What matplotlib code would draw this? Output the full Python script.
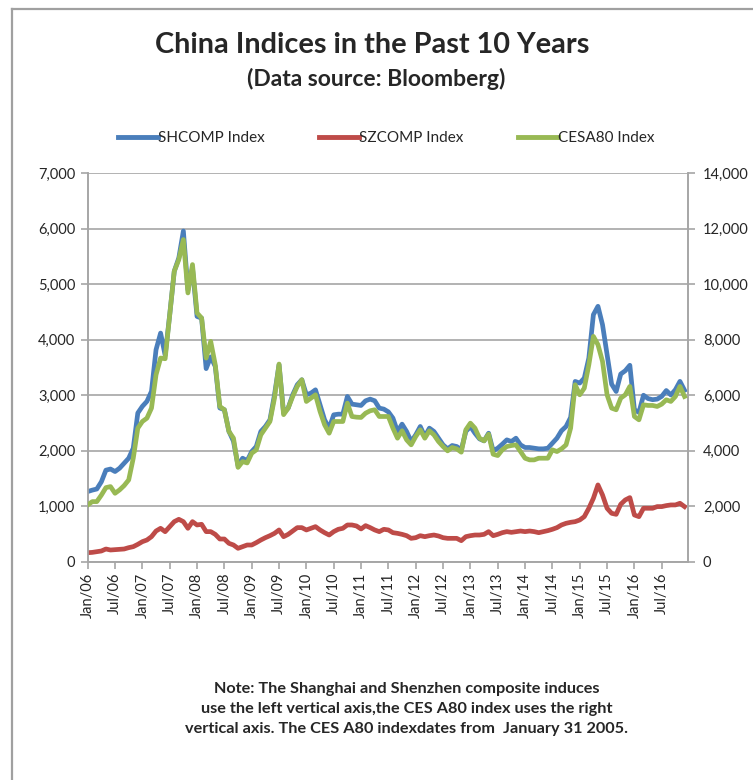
import matplotlib
matplotlib.use("Agg")
import matplotlib.pyplot as plt
from matplotlib.lines import Line2D
from matplotlib.ticker import FuncFormatter, MultipleLocator

plt.rcParams["font.family"] = ["Lato", "DejaVu Sans"]

# ---------------------------------------------------------------------------
# 数据：月度，2006 年 1 月 ~ 2016 年 12 月
# ---------------------------------------------------------------------------
years = list(range(2006, 2017))
tick_labels = []
for y in years:
    tick_labels += [f"Jan/{y % 100:02d}", f"Jul/{y % 100:02d}"]

shcomp = [
    1264, 1290, 1310, 1440, 1650, 1670, 1625, 1685, 1775, 1865, 2045, 2680,   # 2006
    2800, 2890, 3070, 3820, 4120, 3720, 4450, 5235, 5475, 5960, 4900, 5290,   # 2007
    4420, 4390, 3480, 3690, 3520, 2770, 2740, 2350, 2170, 1730, 1865, 1820,   # 2008
    1985, 2076, 2347, 2437, 2557, 3008, 3550, 2680, 2768, 3008, 3189, 3279,   # 2009
    3008, 3038, 3098, 2828, 2557, 2407, 2647, 2659, 2659, 2978, 2840, 2828,   # 2010
    2816, 2900, 2930, 2900, 2768, 2750, 2700, 2587, 2347, 2479, 2347, 2166,   # 2011
    2286, 2437, 2256, 2407, 2347, 2226, 2106, 2034, 2094, 2076, 2016, 2347,   # 2012
    2437, 2316, 2214, 2178, 2316, 1998, 2046, 2118, 2196, 2166, 2226, 2106,   # 2013
    2058, 2058, 2046, 2034, 2034, 2046, 2136, 2226, 2360, 2437, 2600, 3249,   # 2014
    3219, 3309, 3670, 4452, 4603, 4272, 3730, 3200, 3068, 3382, 3442, 3540,   # 2015
    2740, 2690, 3000, 2940, 2920, 2930, 2980, 3085, 3005, 3100, 3250, 3090,   # 2016
]

szcomp = [
    162, 168, 180, 193, 229, 211, 217, 223, 229, 253, 271, 313,   # 2006
    361, 391, 451, 553, 602, 541, 632, 722, 764, 722, 602, 722,   # 2007
    662, 674, 542, 542, 493, 409, 409, 331, 301, 241, 271, 301,   # 2008
    301, 343, 391, 433, 469, 511, 572, 451, 493, 553, 614, 614,   # 2009
    572, 602, 632, 572, 523, 481, 542, 584, 602, 662, 662, 644,   # 2010
    590, 650, 614, 572, 542, 584, 572, 523, 511, 493, 469, 421,   # 2011
    433, 469, 451, 469, 481, 463, 433, 421, 421, 421, 379, 451,   # 2012
    469, 481, 481, 493, 542, 469, 493, 523, 542, 529, 542, 553,   # 2013
    542, 553, 542, 523, 542, 560, 584, 614, 662, 692, 710, 722,   # 2014
    752, 812, 963, 1143, 1384, 1203, 963, 872, 854, 1035, 1113, 1155,   # 2015
    842, 812, 963, 963, 963, 993, 993, 1011, 1023, 1023, 1053, 993,   # 2016
]

# CESA80 使用右轴
cesa80 = [
    2046, 2166, 2166, 2400, 2670, 2708, 2466, 2588, 2744, 2948, 3730, 4814,   # 2006
    5054, 5174, 5536, 6738, 7340, 7316, 8904, 10470, 10890, 11612, 9688, 10710,  # 2007
    8966, 8784, 7340, 7942, 7100, 5596, 5476, 4694, 4452, 3400, 3610, 3560,   # 2008
    3910, 4030, 4572, 4814, 5054, 5896, 7124, 5300, 5536, 5956, 6318, 6558,   # 2009
    5776, 5896, 6016, 5416, 4934, 4632, 5054, 5054, 5054, 5716, 5234, 5210,   # 2010
    5200, 5354, 5440, 5476, 5234, 5234, 5234, 4814, 4452, 4718, 4392, 4212,   # 2011
    4512, 4754, 4452, 4718, 4572, 4332, 4152, 3996, 4116, 4068, 3948, 4754,   # 2012
    4994, 4814, 4452, 4356, 4596, 3874, 3826, 4032, 4152, 4188, 4212, 3970,   # 2013
    3730, 3670, 3670, 3730, 3730, 3730, 4032, 3970, 4068, 4212, 4814, 6378,   # 2014
    6016, 6256, 7100, 8122, 7822, 7220, 6016, 5536, 5476, 5896, 6016, 6318,   # 2015
    5234, 5114, 5656, 5632, 5632, 5596, 5680, 5836, 5776, 5956, 6318, 5956,   # 2016
]

months = list(range(len(shcomp)))

BLUE = "#4A7EBB"
RED = "#BE4B48"
GREEN = "#98B954"
GRID = "#A6A6A6"
TXT = "#262626"

fig = plt.figure(figsize=(7.53, 7.80), dpi=100)
ax = fig.add_axes([87.7 / 753, 1 - 561.7 / 780, 600 / 753, 388.4 / 780])
ax2 = ax.twinx()

ax.plot(months, shcomp, color=BLUE, lw=3.4, solid_joinstyle="round", zorder=3)
ax.plot(months, szcomp, color=RED, lw=3.4, solid_joinstyle="round", zorder=3)
ax2.plot(months, cesa80, color=GREEN, lw=3.4, solid_joinstyle="round", zorder=3)

ax.set_xlim(0, 131.7)
ax.set_ylim(0, 7000)
ax2.set_ylim(0, 14000)
ax.yaxis.set_major_locator(MultipleLocator(1000))
ax2.yaxis.set_major_locator(MultipleLocator(2000))
fmt = FuncFormatter(lambda v, p: f"{int(v):,}")
ax.yaxis.set_major_formatter(fmt)
ax2.yaxis.set_major_formatter(fmt)

ax.set_xticks(range(0, 132, 6))
ax.set_xticklabels(tick_labels, rotation=90, va="top", ha="center")

ax.grid(axis="y", color=GRID, lw=1.2)
ax.set_axisbelow(True)

for a in (ax, ax2):
    a.spines["top"].set_visible(False)
    for s in ("left", "right", "bottom"):
        a.spines[s].set_color(GRID)
        a.spines[s].set_linewidth(1.2)
    a.tick_params(colors=GRID, labelcolor=TXT, labelsize=10.5, length=5, width=1.2)
ax.tick_params(axis="y", pad=4)
ax2.tick_params(axis="y", pad=6)
ax.tick_params(axis="x", pad=3)

# 标题
fig.text(0.494, 1 - 45 / 780, "China Indices in the Past 10 Years",
         ha="center", va="center", fontsize=20.8, fontweight="bold", color=TXT)
fig.text(0.500, 1 - 79 / 780, "(Data source: Bloomberg)",
         ha="center", va="center", fontsize=16.5, fontweight="bold", color=TXT)

# 图例
handles = [Line2D([], [], color=c, lw=3.5) for c in (BLUE, RED, GREEN)]
fig.legend(handles, ["SHCOMP Index", "SZCOMP Index", "CESA80 Index"],
           loc="center", bbox_to_anchor=(0.513, 1 - 138 / 780), ncol=3,
           frameon=False, fontsize=11, handlelength=2.6, handletextpad=0.0,
           columnspacing=3.6, labelcolor=TXT)

# 注释
note = ("Note: The Shanghai and Shenzhen composite induces\n"
        "use the left vertical axis,the CES A80 index uses the right\n"
        "vertical axis. The CES A80 indexdates from  January 31 2005.")
fig.text(0.540, 1 - 709 / 780, note, ha="center", va="center",
         fontsize=11.7, fontweight="bold", color=TXT, linespacing=1.5)

# 图表外框（被裁剪，只见上边和左边）
fig.add_artist(Line2D([11.5 / 753, 1], [1 - 8.5 / 780] * 2, color="#A0A0A0", lw=1.6))
fig.add_artist(Line2D([11.5 / 753] * 2, [0, 1 - 8.5 / 780], color="#A0A0A0", lw=1.6))

fig.savefig("out.png", dpi=100, facecolor="white")
